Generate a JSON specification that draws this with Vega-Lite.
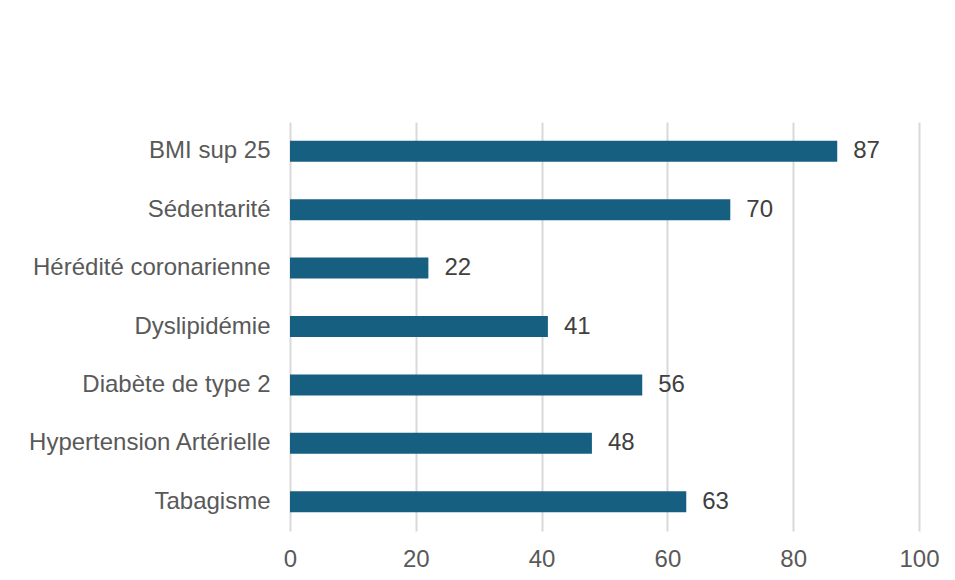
{
  "$schema": "https://vega.github.io/schema/vega-lite/v6.json",
  "width": 629,
  "height": 409,
  "autosize": {"type": "none"},
  "padding": {"left": 290, "top": 122, "right": 36, "bottom": 49},
  "background": "white",
  "config": {
    "view": {"stroke": null},
    "font": "Liberation Sans"
  },
  "data": {
    "values": [
      {"facteur": "BMI sup 25", "valeur": 87},
      {"facteur": "Sédentarité", "valeur": 70},
      {"facteur": "Hérédité coronarienne", "valeur": 22},
      {"facteur": "Dyslipidémie", "valeur": 41},
      {"facteur": "Diabète de type 2", "valeur": 56},
      {"facteur": "Hypertension Artérielle", "valeur": 48},
      {"facteur": "Tabagisme", "valeur": 63}
    ]
  },
  "encoding": {
    "y": {
      "field": "facteur",
      "type": "nominal",
      "sort": null,
      "title": null,
      "scale": {"paddingInner": 0.64, "paddingOuter": 0.32},
      "axis": {
        "domain": false,
        "ticks": false,
        "labelFontSize": 24,
        "labelColor": "#595959",
        "labelPadding": 20,
        "labelFont": "Liberation Sans",
        "labelLimit": 400
      }
    },
    "x": {
      "field": "valeur",
      "type": "quantitative",
      "title": null,
      "scale": {"domain": [0, 100], "nice": false},
      "axis": {
        "values": [0, 20, 40, 60, 80, 100],
        "domain": false,
        "ticks": false,
        "grid": true,
        "gridColor": "#d9d9d9",
        "gridWidth": 2,
        "labelFontSize": 24,
        "labelColor": "#595959",
        "labelPadding": 16,
        "labelFont": "Liberation Sans",
        "labelFlush": false
      }
    }
  },
  "layer": [
    {"mark": {"type": "bar", "color": "#175f80"}},
    {
      "mark": {"type": "text", "align": "left", "baseline": "middle", "dx": 16, "fontSize": 24, "color": "#404040", "font": "Liberation Sans"},
      "encoding": {"text": {"field": "valeur", "type": "quantitative"}}
    }
  ]
}
